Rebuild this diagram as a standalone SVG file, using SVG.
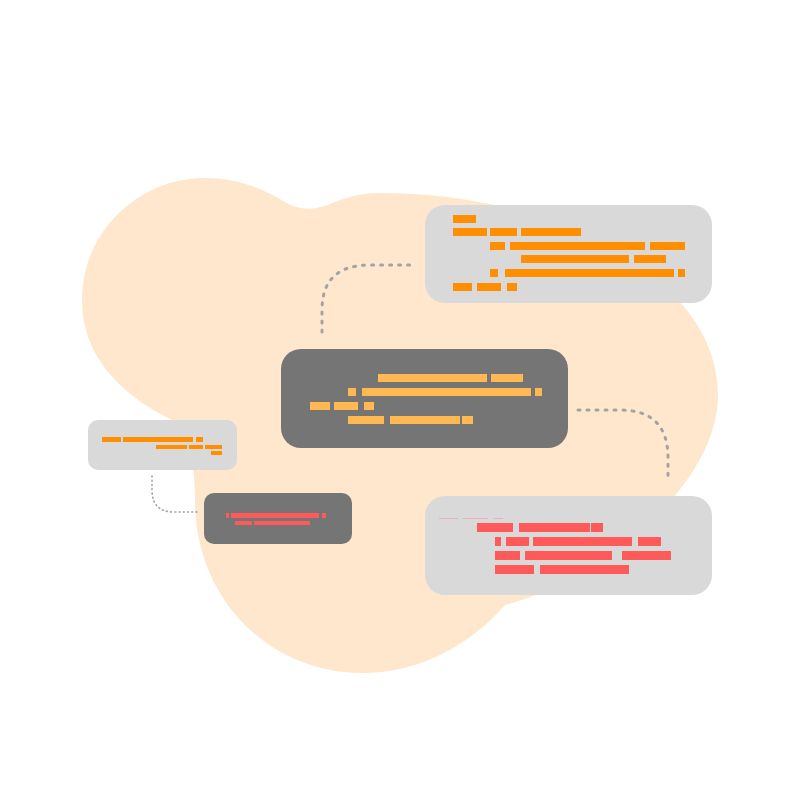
<svg xmlns="http://www.w3.org/2000/svg" width="800" height="800" viewBox="0 0 800 800">
<style>
.blob{fill:#fee7cc}
.light{fill:#d9d9d9}
.dark{fill:#757575}
.o{fill:#ff8f00}
.lo{fill:#ffb852}
.r{fill:#ff5a5a}
.faint{fill:#ff8a8a;opacity:0.5}
.con{fill:none;stroke:#a3a3a3;stroke-linecap:round}
.thick{stroke-width:3;stroke-dasharray:2 7}
.thin{stroke-width:1.6;stroke-dasharray:1 3.2}
</style>
<rect width="800" height="800" fill="#ffffff"/>
<path class="blob" d="M205,178 C240,178 265,190 285,202 C300,211 315,211 335,202 C350,196 365,193 380,193 C560,193 718,280 718,395 C718,430 700,465 678,492 C640,540 580,585 505,605 C470,645 420,673 362,673 C270,673 195,600 195,500 C195,465 190,438 172,420 C115,392 82,352 82,300 C82,230 140,178 205,178 Z"/>
<g id="connectors">
<path class="con thick" d="M322,332 L322,310 Q322,265 370,265 L410,265"/>
<path class="con thick" d="M578,410 L620,410 Q668,410 668,458 L668,478"/>
<path class="con thin" d="M152,476 L152,490 Q152,512 174,512 L198,512"/>
</g>
<g id="node-top-right">
<rect class="light" x="425" y="205" width="287" height="98" rx="20"/>
<rect class="o" x="453" y="215" width="23" height="8"/>
<rect class="o" x="453" y="228" width="34" height="8"/>
<rect class="o" x="490" y="228" width="27" height="8"/>
<rect class="o" x="521" y="228" width="60" height="8"/>
<rect class="o" x="490" y="242" width="15" height="8"/>
<rect class="o" x="510" y="242" width="135" height="8"/>
<rect class="o" x="650" y="242" width="35" height="8"/>
<rect class="o" x="521" y="255" width="108" height="8"/>
<rect class="o" x="634" y="255" width="32" height="8"/>
<rect class="o" x="490" y="269" width="8" height="8"/>
<rect class="o" x="505" y="269" width="169" height="8"/>
<rect class="o" x="678" y="269" width="7" height="8"/>
<rect class="o" x="453" y="283" width="19" height="8"/>
<rect class="o" x="477" y="283" width="24" height="8"/>
<rect class="o" x="507" y="283" width="10" height="8"/>
</g>
<g id="node-center">
<rect class="dark" x="281" y="349" width="287" height="99" rx="20"/>
<rect class="lo" x="378" y="374" width="109" height="8"/>
<rect class="lo" x="491" y="374" width="32" height="8"/>
<rect class="lo" x="348" y="388" width="8" height="8"/>
<rect class="lo" x="362" y="388" width="169" height="8"/>
<rect class="lo" x="535" y="388" width="7" height="8"/>
<rect class="lo" x="310" y="402" width="20" height="8"/>
<rect class="lo" x="334" y="402" width="24" height="8"/>
<rect class="lo" x="364" y="402" width="10" height="8"/>
<rect class="lo" x="348" y="416" width="36" height="8"/>
<rect class="lo" x="390" y="416" width="70" height="8"/>
<rect class="lo" x="462" y="416" width="11" height="8"/>
</g>
<g id="node-bottom-right">
<rect class="light" x="425" y="496" width="287" height="99" rx="20"/>
<rect class="faint" x="439" y="518" width="19" height="1"/>
<rect class="faint" x="463" y="518" width="25" height="1"/>
<rect class="faint" x="494" y="518" width="9" height="1"/>
<rect class="r" x="477" y="523" width="36" height="9"/>
<rect class="r" x="519" y="523" width="71" height="9"/>
<rect class="r" x="591" y="523" width="12" height="9"/>
<rect class="r" x="495" y="537" width="6" height="9"/>
<rect class="r" x="506" y="537" width="23" height="9"/>
<rect class="r" x="533" y="537" width="99" height="9"/>
<rect class="r" x="638" y="537" width="23" height="9"/>
<rect class="r" x="495" y="551" width="25" height="9"/>
<rect class="r" x="525" y="551" width="87" height="9"/>
<rect class="r" x="622" y="551" width="49" height="9"/>
<rect class="r" x="495" y="565" width="39" height="9"/>
<rect class="r" x="540" y="565" width="89" height="9"/>
</g>
<g id="node-left">
<rect class="light" x="88" y="420" width="149" height="50" rx="10"/>
<rect class="o" x="102" y="437" width="19" height="5"/>
<rect class="o" x="123" y="437" width="70" height="5"/>
<rect class="o" x="196" y="437" width="7" height="5"/>
<rect class="o" x="156" y="445" width="31" height="4"/>
<rect class="o" x="189" y="445" width="14" height="4"/>
<rect class="o" x="205" y="445" width="17" height="4"/>
<rect class="o" x="211" y="451" width="11" height="4"/>
</g>
<g id="node-small-dark">
<rect class="dark" x="204" y="493" width="148" height="51" rx="10"/>
<rect class="r" x="226" y="513" width="3" height="5"/>
<rect class="r" x="231" y="513" width="88" height="5"/>
<rect class="r" x="322" y="513" width="4" height="5"/>
<rect class="r" x="235" y="521" width="17" height="4"/>
<rect class="r" x="254" y="521" width="56" height="4"/>
</g>
</svg>
